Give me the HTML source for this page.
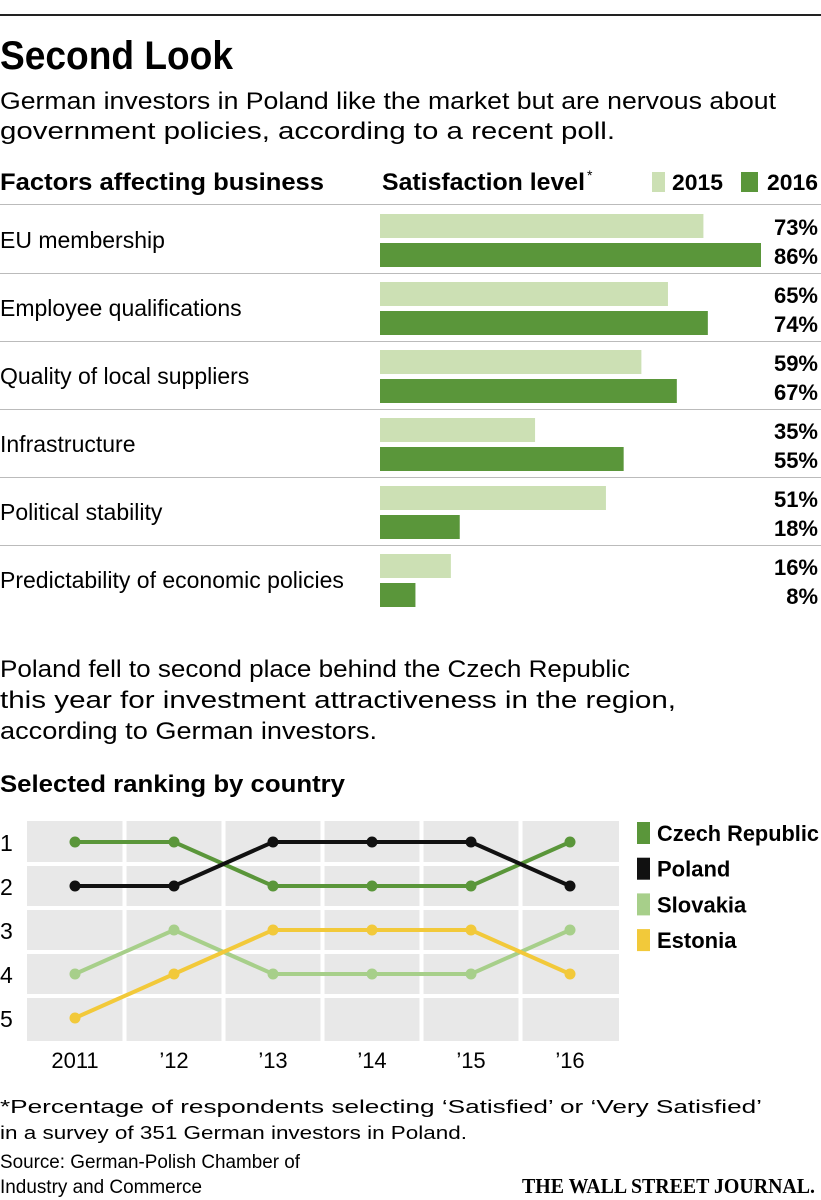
<!DOCTYPE html>
<html><head><meta charset="utf-8"><style>
body{margin:0;background:#fff}
svg{display:block;font-family:"Liberation Sans",sans-serif}
</style></head><body>
<svg id="c" width="821" height="1200" viewBox="0 0 821 1200">
<rect x="0" y="14" width="821" height="2" fill="#222"/>
<text x="0" y="69" font-size="40" font-weight="bold" textLength="233" lengthAdjust="spacingAndGlyphs">Second Look</text>
<text x="0" y="109" font-size="24" textLength="776" lengthAdjust="spacingAndGlyphs">German investors in Poland like the market but are nervous about</text>
<text x="0" y="139" font-size="24" textLength="615" lengthAdjust="spacingAndGlyphs">government policies, according to a recent poll.</text>
<text x="0" y="190" font-size="24" font-weight="bold" textLength="324" lengthAdjust="spacingAndGlyphs">Factors affecting business</text>
<text x="382" y="190" font-size="24" font-weight="bold" textLength="203" lengthAdjust="spacingAndGlyphs">Satisfaction level</text>
<text x="587" y="180" font-size="14">*</text>
<rect x="652" y="172" width="13" height="20" fill="#cce0b4"/>
<text x="672" y="190" font-size="22" font-weight="bold" textLength="51" lengthAdjust="spacingAndGlyphs">2015</text>
<rect x="741" y="172" width="17" height="20" fill="#5a963a"/>
<text x="767" y="190" font-size="22" font-weight="bold" textLength="51" lengthAdjust="spacingAndGlyphs">2016</text>
<rect x="0" y="204" width="821" height="1" fill="#bbb"/>
<g id="bars"></g>

<text x="0" y="677" font-size="24" textLength="630" lengthAdjust="spacingAndGlyphs">Poland fell to second place behind the Czech Republic</text>
<text x="0" y="708" font-size="24" textLength="676" lengthAdjust="spacingAndGlyphs">this year for investment attractiveness in the region,</text>
<text x="0" y="739" font-size="24" textLength="377" lengthAdjust="spacingAndGlyphs">according to German investors.</text>
<text x="0" y="792" font-size="24" font-weight="bold" textLength="345" lengthAdjust="spacingAndGlyphs">Selected ranking by country</text>
<g id="lines"></g>

<text x="0" y="1113" font-size="18" textLength="762" lengthAdjust="spacingAndGlyphs">*Percentage of respondents selecting ‘Satisfied’ or ‘Very Satisfied’</text>
<text x="0" y="1139" font-size="18" textLength="467" lengthAdjust="spacingAndGlyphs">in a survey of 351 German investors in Poland.</text>
<text x="0" y="1168" font-size="19" textLength="300" lengthAdjust="spacingAndGlyphs">Source: German-Polish Chamber of</text>
<text x="0" y="1193" font-size="19" textLength="202" lengthAdjust="spacingAndGlyphs">Industry and Commerce</text>
<text x="522" y="1193" font-size="21" font-weight="bold" font-family="Liberation Serif,serif" textLength="293" lengthAdjust="spacingAndGlyphs">THE WALL STREET JOURNAL.</text>
</svg>
<script>
const factors=["EU membership","Employee qualifications","Quality of local suppliers","Infrastructure","Political stability","Predictability of economic policies"];
const v2015=[73,65,59,35,51,16];
const v2016=[86,74,67,55,18,8];
const years=["2011","’12","’13","’14","’15","’16"];
const rankTicks=[1,2,3,4,5];
const czech=[1,1,2,2,2,1];
const poland=[2,2,1,1,1,2];
const slovakia=[4,3,4,4,4,3];
const estonia=[5,4,3,3,3,4];
const NS="http://www.w3.org/2000/svg";
function mk(p,t,a){const e=document.createElementNS(NS,t);for(const k in a)e.setAttribute(k,a[k]);p.appendChild(e);return e;}
const bx=v=>380+v*381/86;
const bars=document.getElementById('bars');
factors.forEach((f,i)=>{
  const y0=205+i*68;
  let t=mk(bars,'text',{x:0,y:y0+43,'font-size':23});t.textContent=f;
  
  
  let r=mk(bars,'rect',{x:380,y:y0+9,width:bx(v2015[i])-380,height:24,fill:'#cce0b4'});
  
  
  r=mk(bars,'rect',{x:380,y:y0+38,width:bx(v2016[i])-380,height:24,fill:'#5a963a'});
  
  
  t=mk(bars,'text',{x:818,y:y0+30,'font-size':22,'font-weight':'bold','text-anchor':'end'});t.textContent=v2015[i]+'%';
  
  
  t=mk(bars,'text',{x:818,y:y0+59,'font-size':22,'font-weight':'bold','text-anchor':'end'});t.textContent=v2016[i]+'%';
  
  
  if(i<factors.length-1){r=mk(bars,'rect',{x:0,y:y0+68,width:821,height:1,fill:'#bbb'});
  
  }
});
const L=document.getElementById('lines');
const px=i=>75+i*99, py=r=>842+(r-1)*44;
let bg=mk(L,'rect',{x:27,y:821,width:592,height:220,fill:'#e8e8e8'});


for(let i=0;i<years.length-1;i++){const g=mk(L,'rect',{x:(px(i)+px(i+1))/2-2,y:821,width:4,height:220,fill:'#fff'});

}
for(let r=1;r<rankTicks.length;r++){const g=mk(L,'rect',{x:27,y:(py(r)+py(r+1))/2-2,width:592,height:4,fill:'#fff'});

}
rankTicks.forEach(r=>{const t=mk(L,'text',{x:0,y:py(r)+9,'font-size':23});t.textContent=r;

});
years.forEach((y,i)=>{const t=mk(L,'text',{x:px(i),y:1068,'font-size':22,'text-anchor':'middle'});t.textContent=y;

});
const series=[["Czech Republic",czech,'#5a963a'],["Poland",poland,'#111'],["Slovakia",slovakia,'#a7cf8a'],["Estonia",estonia,'#f2c93a']];
[2,3,0,1].forEach(si=>{const [n,d,c]=series[si];
  const p=mk(L,'polyline',{points:d.map((v,i)=>px(i)+','+py(v)).join(' '),fill:'none',stroke:c,'stroke-width':4});
  
  
  d.forEach((v,i)=>{const ci=mk(L,'circle',{cx:px(i),cy:py(v),r:5.5,fill:c});
  
  });
});
series.forEach(([n,d,c],i)=>{const y=833+i*35.7;
  const s=mk(L,'rect',{x:637,y:y-11,width:13,height:22,fill:c});
  
  
  const t=mk(L,'text',{x:657,y:y+8,'font-size':22,'font-weight':'bold'});t.textContent=n;
  if(i==0){t.setAttribute('textLength','162');t.setAttribute('lengthAdjust','spacingAndGlyphs');}
  
  
});
</script>
</body></html>
